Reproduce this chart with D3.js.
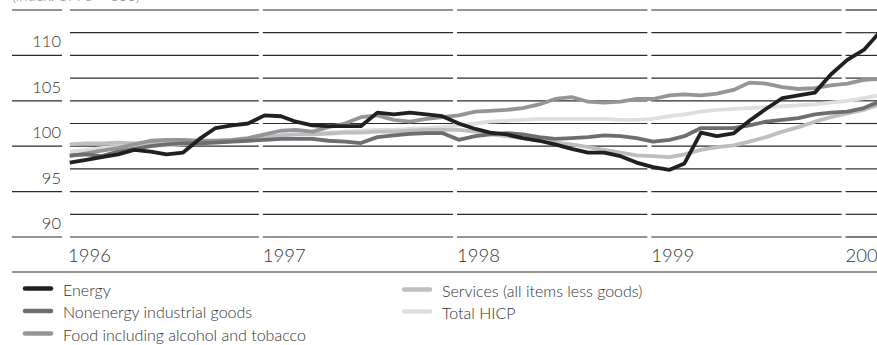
<!DOCTYPE html>
<html>
<head>
<meta charset="utf-8">
<script src="https://cdn.jsdelivr.net/npm/d3@7"></script>
<style>
  html, body { margin: 0; padding: 0; background: #fff; }
  svg { display: block; }
  text { font-family: Lato, "Open Sans", "DejaVu Sans", sans-serif; font-weight: 300; }
</style>
</head>
<body>
<svg id="chart" width="877" height="345"></svg>
<script>
// Monthly index values, January 1996 to March 2000
const energy = [
  98.2, 98.5, 98.8, 99.1, 99.6, 99.4, 99.1, 99.3, 100.8, 102.0, 102.3, 102.5,
  103.4, 103.3, 102.7, 102.3, 102.2, 102.2, 102.2, 103.7, 103.5, 103.7, 103.5, 103.3,
  102.5, 101.9, 101.5, 101.3, 100.9, 100.6, 100.2, 99.7, 99.3, 99.3, 98.9, 98.2,
  97.7, 97.4, 98.1, 101.5, 101.1, 101.4, 102.8, 104.1, 105.3, 105.6, 105.9, 107.9,
  109.5, 110.6, 112.5
];
const nonenergy = [
  99.0, 99.1, 98.9, 99.4, 99.7, 100.0, 100.2, 100.3, 100.3, 100.4, 100.5, 100.6,
  100.7, 100.8, 100.8, 100.8, 100.6, 100.5, 100.35, 101.0, 101.2, 101.35, 101.45, 101.45,
  100.7, 101.1, 101.3, 101.45, 101.3, 101.0, 100.8, 100.9, 101.0, 101.2, 101.1, 100.9,
  100.5, 100.7, 101.1, 102.0, 102.0, 102.0, 102.3, 102.7, 102.9, 103.1, 103.5, 103.7,
  103.8, 104.2, 104.9
];
const food = [
  98.9, 99.2, 99.5, 99.8, 100.2, 100.6, 100.7, 100.7, 100.6, 100.6, 100.7, 100.9,
  101.3, 101.7, 101.8, 101.6, 102.1, 102.5, 103.2, 103.4, 102.9, 102.7, 103.0, 103.2,
  103.4, 103.8, 103.9, 104.0, 104.2, 104.6, 105.2, 105.4, 104.9, 104.8, 104.9, 105.2,
  105.2, 105.6, 105.7, 105.6, 105.8, 106.2, 107.0, 106.9, 106.5, 106.3, 106.4, 106.7,
  106.9, 107.3, 107.4
];
const services = [
  100.2, 100.3, 100.3, 100.4, 100.3, 100.3, 100.4, 100.4, 100.4, 100.5, 100.6, 100.8,
  101.0, 101.2, 101.3, 101.3, 101.4, 101.5, 101.5, 101.6, 101.6, 101.7, 101.8, 101.8,
  101.8, 101.6, 101.3, 101.1, 100.9, 100.7, 100.4, 100.2, 99.9, 99.6, 99.3, 99.0,
  98.9, 98.8, 99.1, 99.6, 99.9, 100.1, 100.5, 101.0, 101.6, 102.1, 102.7, 103.2,
  103.6, 104.0, 104.6
];
const totalHicp = [
  99.4, 99.6, 99.8, 99.9, 100.0, 100.1, 100.1, 100.2, 100.3, 100.5, 100.6, 100.8,
  101.0, 101.2, 101.3, 101.4, 101.5, 101.6, 101.7, 101.8, 101.8, 101.9, 102.0, 102.1,
  102.3, 102.5, 102.7, 102.8, 102.9, 103.0, 103.0, 103.0, 103.0, 103.0, 102.9, 102.9,
  103.0, 103.3, 103.5, 103.8, 104.0, 104.1, 104.2, 104.3, 104.4, 104.5, 104.6, 104.8,
  105.0, 105.3, 105.6
];

const seriesNames = [
  "Energy",
  "Nonenergy industrial goods",
  "Food including alcohol and tobacco",
  "Services (all items less goods)",
  "Total HICP"
];
const seriesColors = ["#231f20", "#6d6e70", "#939598", "#bcbec0", "#dddedf"];
const yearLabels = ["1996", "1997", "1998", "1999", "2000"];
const yTickLabels = [90, 95, 100, 105, 110];

const months = d3.timeMonth.range(new Date(1996, 0, 1), new Date(2000, 3, 1));

const svg = d3.select("#chart");
const W = 877;

const x = d3.scaleTime()
  .domain([new Date(1996, 0, 1), new Date(2000, 0, 1)])
  .range([66, 843.6]);
const y = d3.scaleLinear().domain([90, 115]).range([237, 10]);

// observation date for each month
const at = d => d3.timeDay.offset(d, 7);

// heading, running off the top edge
svg.append("text")
  .attr("x", 12).attr("y", 0.5)
  .attr("font-size", 15).attr("fill", "#888")
  .text("(index: 1996 = 100)");

// horizontal grid, broken at each year boundary
const yearStarts = yearLabels.map(s => new Date(+s, 0, 1));
const segs = [];
yearStarts.forEach((d, i) => {
  const x0 = i === 0 ? x(d) + 4 : x(d) + 2;
  const x1 = i < yearStarts.length - 1 ? x(yearStarts[i + 1]) - 2 : W;
  segs.push([x0, x1]);
});
const gridVals = d3.range(90, 115.01, 2.5);
const grid = svg.append("g").attr("stroke", "#2b2b2b").attr("stroke-width", 1.2);
gridVals.forEach(v => {
  segs.forEach(([a, b]) => {
    grid.append("line").attr("x1", a).attr("x2", b).attr("y1", y(v)).attr("y2", y(v));
  });
  if (v % 5 === 0) {
    grid.append("line").attr("x1", 12).attr("x2", 62).attr("y1", y(v)).attr("y2", y(v));
  }
});

// y labels sit just above their grid line
svg.append("g").selectAll("text").data(yTickLabels).join("text")
  .attr("x", 61).attr("y", v => y(v) - 8)
  .attr("text-anchor", "end")
  .attr("font-size", 16.5).attr("fill", "#333")
  .text(v => v);

// year labels
svg.append("g").selectAll("text").data(yearStarts).join("text")
  .attr("x", d => x(d) + 2).attr("y", 262)
  .attr("font-size", 18.5).attr("fill", "#333")
  .text((d, i) => yearLabels[i]);

// rule under the year labels
svg.append("line").attr("x1", 12).attr("x2", W).attr("y1", 272).attr("y2", 272)
  .attr("stroke", "#2b2b2b").attr("stroke-width", 1.2);

// series lines
const seriesData = [energy, nonenergy, food, services, totalHicp];
const line = d3.line()
  .x((v, i) => x(at(months[i])))
  .y(v => y(v));
const plot = svg.append("g");
d3.range(seriesData.length).reverse().forEach(k => {
  plot.append("path")
    .datum(seriesData[k])
    .attr("d", line)
    .attr("fill", "none")
    .attr("stroke", seriesColors[k])
    .attr("stroke-width", 3.8)
    .attr("stroke-linejoin", "round");
});

// legend
const legendPos = [
  [23, 288.5], [23, 311], [23, 333.5], [402, 289.5], [402, 311.5]
];
const lg = svg.append("g");
seriesNames.forEach((name, k) => {
  const [lx, ly] = legendPos[k];
  lg.append("line")
    .attr("x1", lx + 2).attr("x2", lx + 28).attr("y1", ly).attr("y2", ly)
    .attr("stroke", seriesColors[k]).attr("stroke-width", 4.5)
    .attr("stroke-linecap", "round");
  lg.append("text")
    .attr("x", lx + 40).attr("y", ly + 7)
    .attr("font-size", 16).attr("fill", "#333")
    .text(name);
});
</script>
</body>
</html>
